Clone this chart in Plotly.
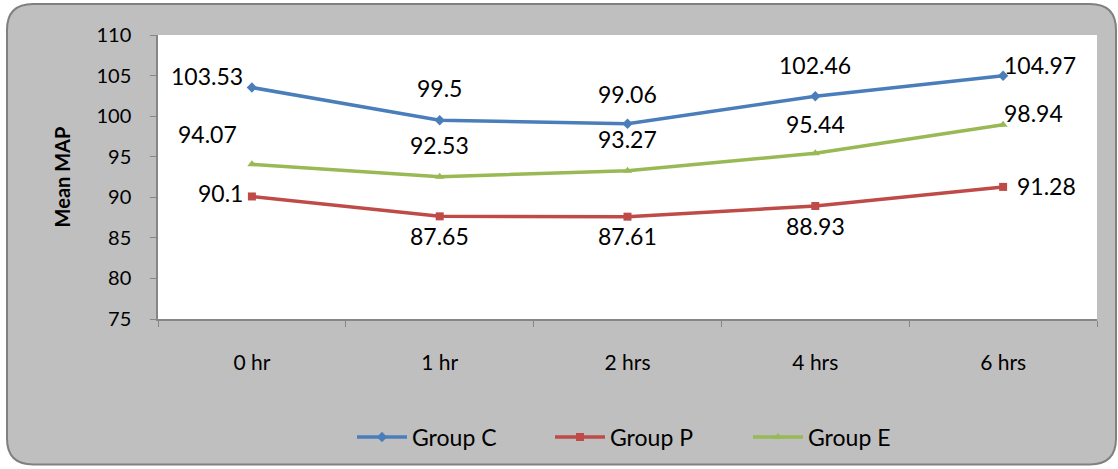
import plotly.graph_objects as go

# Time points and mean arterial pressure per group
time_points = ["0 hr", "1 hr", "2 hrs", "4 hrs", "6 hrs"]
group_c = [103.53, 99.5, 99.06, 102.46, 104.97]
group_p = [90.1, 87.65, 87.61, 88.93, 91.28]
group_e = [94.07, 92.53, 93.27, 95.44, 98.94]

W, H = 1118, 469
L, R, T, B = 158, 21, 35, 149
PW, PH = W - L - R, H - T - B


def px(x):
    return (x - L) / PW


def py(y):
    return (H - B - y) / PH


fig = go.Figure()

# (name, values, colour, marker, label offsets in px (dx, dy) per point)
series = [
    ("Group C", group_c, "#4A7EBB", "diamond",
     [(-45, 12), (0, 32), (0, 30), (0, 31), (37, 11)]),
    ("Group P", group_p, "#BE4B48", "square",
     [(-31, 3), (0, -20), (0, -19), (0, -20), (43, 1)]),
    ("Group E", group_e, "#98B954", "triangle-up",
     [(-44, 30), (0, 32), (0, 32), (0, 29), (30, 12)]),
]

for name, vals, color, sym, offsets in series:
    fig.add_trace(go.Scatter(
        x=time_points, y=vals, name=name,
        mode="lines+markers",
        line=dict(color=color, width=3.5),
        marker=dict(symbol=sym, size=8, color=color),
        cliponaxis=False,
    ))
    for cat, v, (dx, dy) in zip(time_points, vals, offsets):
        fig.add_annotation(
            x=cat, y=v, text=f"{v:g}", showarrow=False,
            xshift=dx, yshift=dy,
            font=dict(size=23, color="black", family="Lato"),
        )

# Rounded grey chart panel
x0, y0, x1, y1, r = 7, 4, 1116, 466, 26
path = (
    f"M {px(x0 + r)} {py(y0)} L {px(x1 - r)} {py(y0)} "
    f"Q {px(x1)} {py(y0)} {px(x1)} {py(y0 + r)} "
    f"L {px(x1)} {py(y1 - r)} Q {px(x1)} {py(y1)} {px(x1 - r)} {py(y1)} "
    f"L {px(x0 + r)} {py(y1)} Q {px(x0)} {py(y1)} {px(x0)} {py(y1 - r)} "
    f"L {px(x0)} {py(y0 + r)} Q {px(x0)} {py(y0)} {px(x0 + r)} {py(y0)} Z"
)
fig.add_shape(type="path", path=path, xref="paper", yref="paper",
              fillcolor="#BFBFBF", line=dict(color="#808080", width=2), layer="below")
fig.add_shape(type="rect", xref="paper", yref="paper", x0=0, y0=0, x1=1, y1=1,
              fillcolor="white", line=dict(width=0), layer="below")

fig.update_layout(
    width=W, height=H,
    margin=dict(l=L, r=R, t=T, b=B),
    paper_bgcolor="white",
    plot_bgcolor="rgba(0,0,0,0)",
    font=dict(family="Lato", size=20, color="black"),
    showlegend=True,
    legend=dict(orientation="h", x=px(352), xanchor="left", y=py(437), yanchor="middle",
                itemwidth=50, font=dict(size=23), bgcolor="rgba(0,0,0,0)",
                traceorder="normal", entrywidth=133),
)

fig.update_xaxes(
    type="category", range=[-0.5, 4.5],
    showline=True, linecolor="#868686", linewidth=1.5,
    ticks="outside", tickson="boundaries", ticklen=6, tickcolor="#868686",
    ticklabelstandoff=24, showgrid=False, zeroline=False,
    tickfont=dict(size=21),
)
fig.update_yaxes(
    range=[75, 110], dtick=5,
    showline=True, linecolor="#868686", linewidth=1.5,
    ticks="outside", ticklen=6, tickcolor="#868686",
    ticklabelstandoff=15, showgrid=False, zeroline=False,
    tickfont=dict(size=20),
    title=dict(text="<b>Mean MAP</b>", font=dict(size=20), standoff=20),
)

fig.write_html("out.html")
